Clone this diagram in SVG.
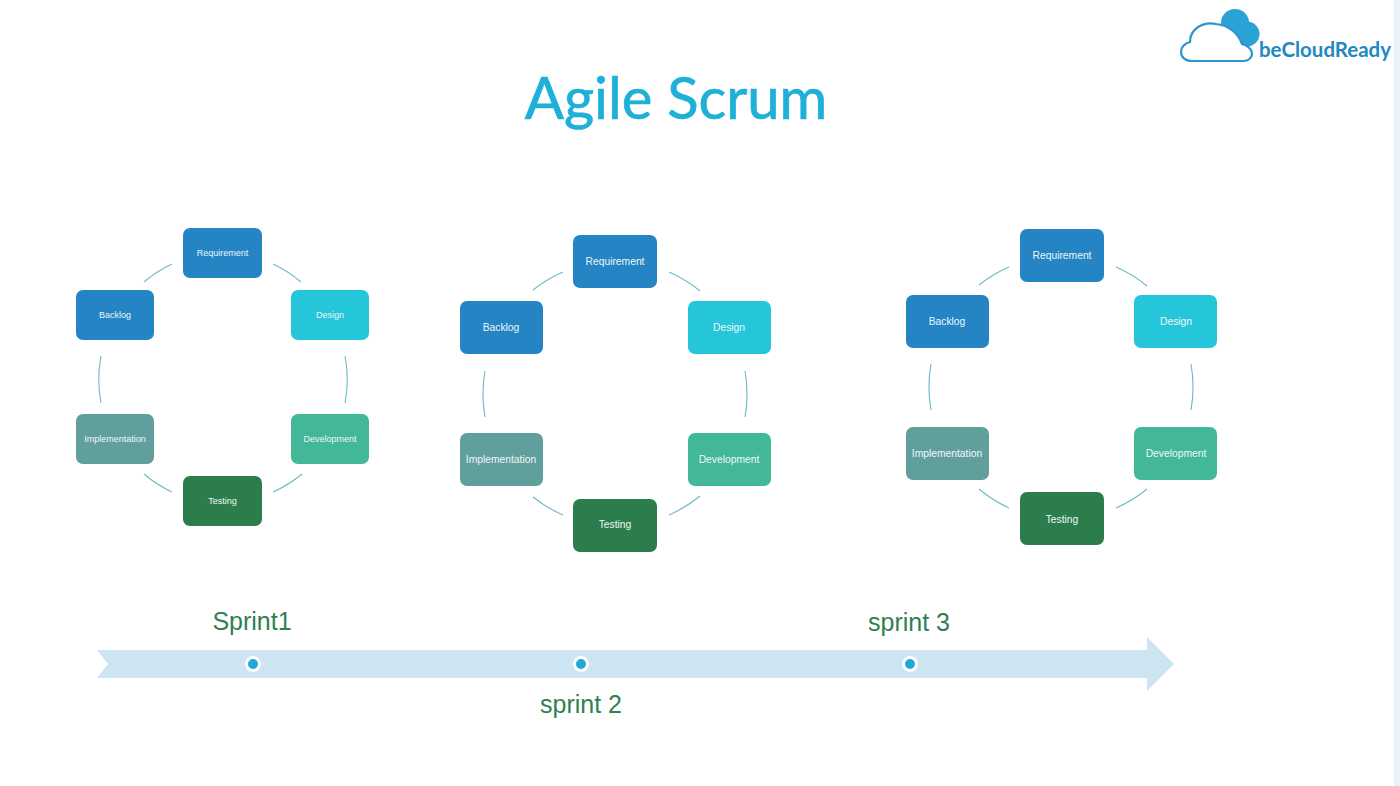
<svg xmlns="http://www.w3.org/2000/svg" width="1400" height="786" viewBox="0 0 1400 786">
<style>
.blue{fill:#2484c4}.cyan{fill:#26c6da}.teal{fill:#42b898}.sage{fill:#619f9d}.green{fill:#2c7d4c}
.l{fill:#eef7f7;font-family:"Liberation Sans",Arial,sans-serif;text-anchor:middle}
.s1{font-size:9px}.s2{font-size:10.300px}
.arc{fill:none;stroke:#6db9c6;stroke-width:1.1}
.sp{fill:#2f7f50;font-family:"Liberation Sans",Arial,sans-serif;font-size:25px;text-anchor:middle}
</style>
<rect width="1400" height="786" fill="#fff"/>
<rect x="1394" y="0" width="6" height="786" fill="#eaf3f8"/>
<text id="title" x="676" y="119" font-family="Lato,'Open Sans',sans-serif" font-size="58" fill="#1fb0d8" stroke="#1fb0d8" stroke-width="0.7" text-anchor="middle">Agile Scrum</text>
<g id="logo">
<circle cx="1235" cy="23" r="14" fill="#2ba2d6"/>
<circle cx="1247" cy="34" r="12.500" fill="#2ba2d6"/>
<path d="M1190 42C1190 29 1203 21 1216 24C1228 25 1238 33 1242 44C1247 45 1252 49 1252 54C1252 58 1248 61 1244 61L1192 61C1185 61 1181 57 1181 52C1181 47 1185 43 1190 42Z" fill="#fff" stroke="#2b95cf" stroke-width="2.2"/>
<text x="1259" y="57" font-family="Lato,'Open Sans',sans-serif" font-weight="700" font-size="20" fill="#2088c2" textLength="132" lengthAdjust="spacingAndGlyphs">beCloudReady</text>
</g>
<g id="connectors">
<path class="arc" d="M144 282A124 124 0 0 1 172 264M273 264A124 124 0 0 1 301 282M101 356A124 124 0 0 0 101 403M345 356A124 124 0 0 1 345 403M144 474A124 124 0 0 0 172 492M273 492A124 124 0 0 0 302 474"/>
<path class="arc" d="M533 290A132 132 0 0 1 563 272M669 272A132 132 0 0 1 700 291M485 371A132 132 0 0 0 485 417M745 371A132 132 0 0 1 745 417M533 497A132 132 0 0 0 563 515M669 515A132 132 0 0 0 700 496"/>
<path class="arc" d="M979 285A132 132 0 0 1 1009 267M1116 267A132 132 0 0 1 1147 286M931 364A132 132 0 0 0 931 410M1191 364A132 132 0 0 1 1191 410M979 489A132 132 0 0 0 1009 508M1116 508A132 132 0 0 0 1147 489"/>
</g>
<g id="a-req"><rect class="blue" x="183" y="228" width="79" height="50" rx="7"/><text class="l s1" x="222.500" y="256">Requirement</text></g>
<g id="a-backlog"><rect class="blue" x="76" y="290" width="78" height="50" rx="7"/><text class="l s1" x="115" y="318">Backlog</text></g>
<g id="a-design"><rect class="cyan" x="291" y="290" width="78" height="50" rx="7"/><text class="l s1" x="330" y="318">Design</text></g>
<g id="a-impl"><rect class="sage" x="76" y="414" width="78" height="50" rx="7"/><text class="l s1" x="115" y="442">Implementation</text></g>
<g id="a-dev"><rect class="teal" x="291" y="414" width="78" height="50" rx="7"/><text class="l s1" x="330" y="442">Development</text></g>
<g id="a-test"><rect class="green" x="183" y="476" width="79" height="50" rx="7"/><text class="l s1" x="222.500" y="504">Testing</text></g>
<g id="b-req"><rect class="blue" x="573" y="235" width="84" height="53" rx="7"/><text class="l s2" x="615" y="265">Requirement</text></g>
<g id="b-backlog"><rect class="blue" x="460" y="301" width="83" height="53" rx="7"/><text class="l s2" x="501" y="331">Backlog</text></g>
<g id="b-design"><rect class="cyan" x="688" y="301" width="83" height="53" rx="7"/><text class="l s2" x="729" y="331">Design</text></g>
<g id="b-impl"><rect class="sage" x="460" y="433" width="83" height="53" rx="7"/><text class="l s2" x="501" y="463">Implementation</text></g>
<g id="b-dev"><rect class="teal" x="688" y="433" width="83" height="53" rx="7"/><text class="l s2" x="729" y="463">Development</text></g>
<g id="b-test"><rect class="green" x="573" y="499" width="84" height="53" rx="7"/><text class="l s2" x="615" y="528">Testing</text></g>
<g id="c-req"><rect class="blue" x="1020" y="229" width="84" height="53" rx="7"/><text class="l s2" x="1062" y="259">Requirement</text></g>
<g id="c-backlog"><rect class="blue" x="906" y="295" width="83" height="53" rx="7"/><text class="l s2" x="947" y="325">Backlog</text></g>
<g id="c-design"><rect class="cyan" x="1134" y="295" width="83" height="53" rx="7"/><text class="l s2" x="1176" y="325">Design</text></g>
<g id="c-impl"><rect class="sage" x="906" y="427" width="83" height="53" rx="7"/><text class="l s2" x="947" y="457">Implementation</text></g>
<g id="c-dev"><rect class="teal" x="1134" y="427" width="83" height="53" rx="7"/><text class="l s2" x="1176" y="457">Development</text></g>
<g id="c-test"><rect class="green" x="1020" y="492" width="84" height="53" rx="7"/><text class="l s2" x="1062" y="523">Testing</text></g>
<g id="timeline">
<polygon points="97,650 1147,650 1147,637 1174,664 1147,691 1147,678 97,678 108,664" fill="#cde4f2"/>
<g fill="#1fa8d8" stroke="#fff" stroke-width="3"><circle cx="253" cy="664" r="6.500"/><circle cx="581" cy="664" r="6.500"/><circle cx="910" cy="664" r="6.500"/></g>
<text class="sp" x="252" y="630">Sprint1</text>
<text class="sp" x="581" y="713">sprint 2</text>
<text class="sp" x="909" y="631">sprint 3</text>
</g>
</svg>
